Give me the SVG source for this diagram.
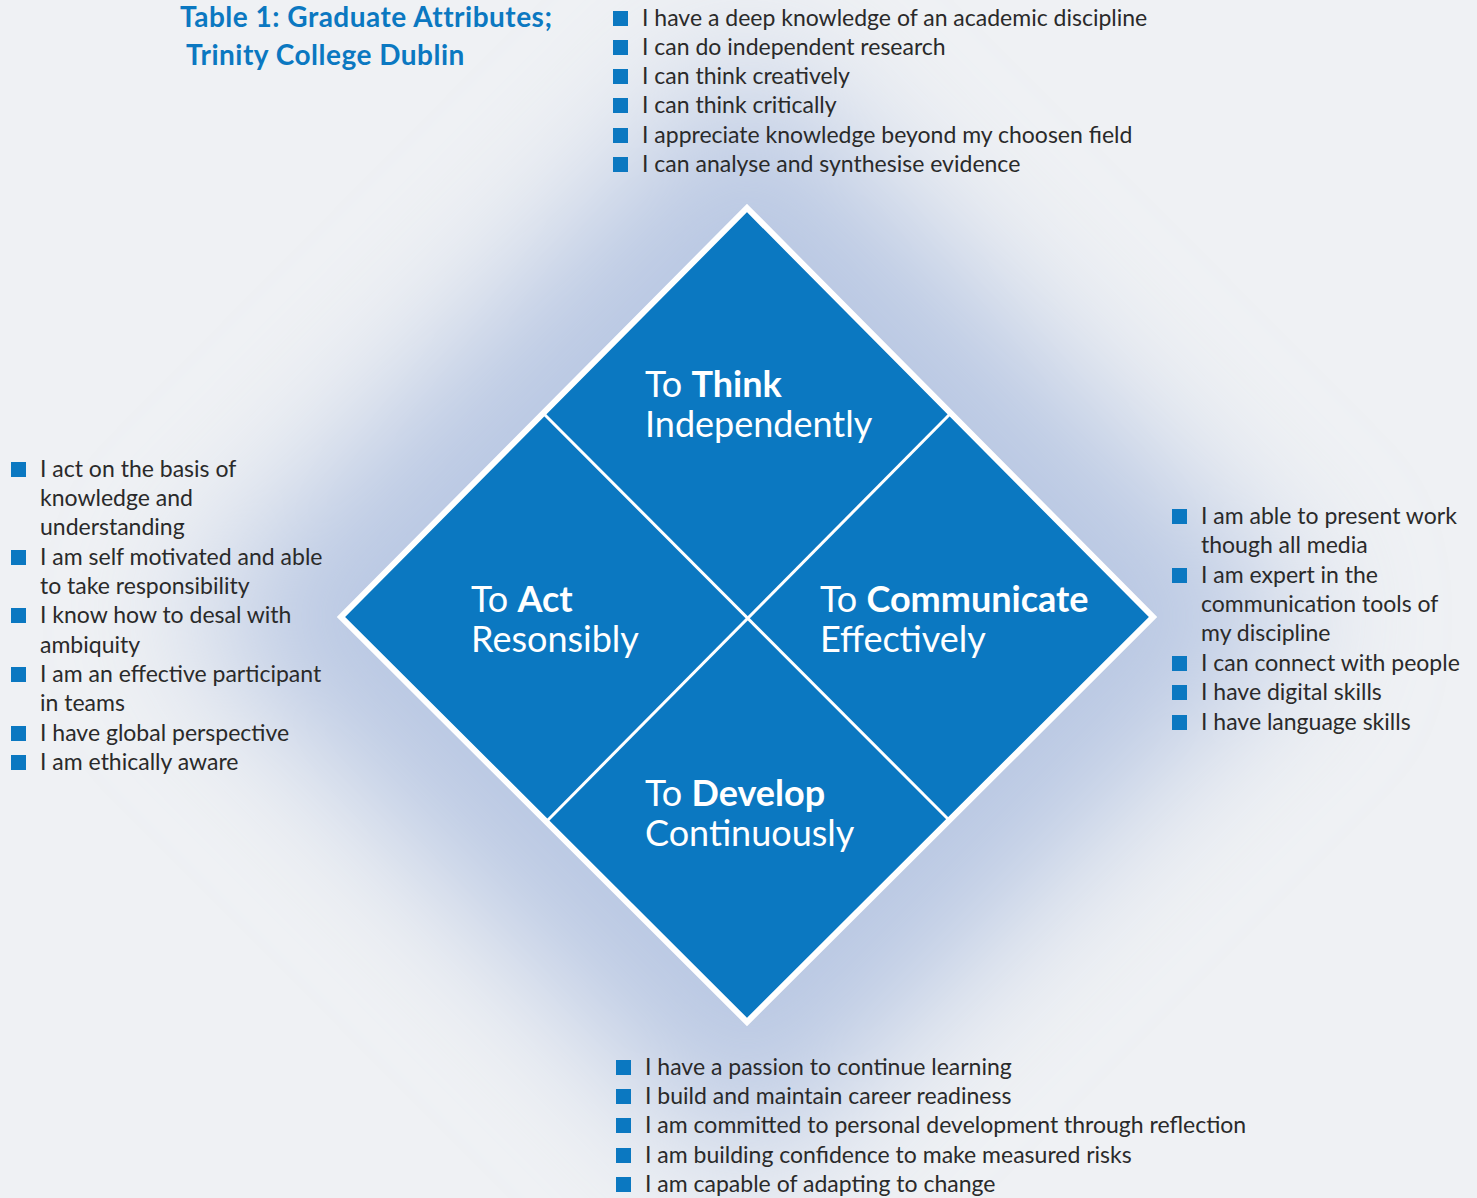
<svg xmlns="http://www.w3.org/2000/svg" width="1477" height="1198" viewBox="0 0 1477 1198">
<defs>
<style>
.t{font-family:Lato,"Noto Sans","Liberation Sans",sans-serif;font-size:23px;fill:#2a2a2a}
.ttl{font-family:Lato,"Noto Sans","Liberation Sans",sans-serif;font-size:28px;font-weight:bold;letter-spacing:0.5px;fill:#0b78c1}
.lbl{font-family:Lato,"Noto Sans","Liberation Sans",sans-serif;font-size:36px;fill:#ffffff}
.b{font-weight:bold}
.bul{fill:#0b78c1}
</style>
<filter id="glow" x="-50%" y="-50%" width="200%" height="200%">
<feGaussianBlur stdDeviation="70"/>
</filter>
</defs>
<rect width="1477" height="1198" fill="#eff1f4"/>
<g id="glow-bg" filter="url(#glow)">
<polygon points="747,50 1310,617 747,1180 185,617" fill="#b9c8e3"/>
</g>
<g id="title">
<text class="ttl" x="180" y="27">Table 1: Graduate Attributes;</text>
<text class="ttl" x="186" y="65">Trinity College Dublin</text>
</g>
<g id="diamond">
<polygon points="747,208 1153,617 747,1022 341,617" fill="#0b78c1" stroke="#ffffff" stroke-width="6" stroke-linejoin="miter"/>
</g>
<g id="connectors">
<line x1="544" y1="414" x2="950" y2="821" stroke="#ffffff" stroke-width="3"/>
<line x1="950" y1="414" x2="546" y2="822" stroke="#ffffff" stroke-width="3"/>
</g>
<g id="node-think">
<text class="lbl" x="645" y="397">To <tspan class="b">Think</tspan></text>
<text class="lbl" x="645" y="437">Independently</text>
</g>
<g id="node-act">
<text class="lbl" x="471" y="612">To <tspan class="b">Act</tspan></text>
<text class="lbl" x="471" y="652">Resonsibly</text>
</g>
<g id="node-communicate">
<text class="lbl" x="820" y="612">To <tspan class="b">Communicate</tspan></text>
<text class="lbl" x="820" y="652">Effectively</text>
</g>
<g id="node-develop">
<text class="lbl" x="645" y="806">To <tspan class="b">Develop</tspan></text>
<text class="lbl" x="645" y="846">Continuously</text>
</g>
<g id="list-top">
<rect class="bul" x="613" y="11" width="15" height="15"/><text class="t" x="642" y="26">I have a deep knowledge of an academic discipline</text>
<rect class="bul" x="613" y="40" width="15" height="15"/><text class="t" x="642" y="55">I can do independent research</text>
<rect class="bul" x="613" y="69" width="15" height="15"/><text class="t" x="642" y="84">I can think creatively</text>
<rect class="bul" x="613" y="98" width="15" height="15"/><text class="t" x="642" y="113">I can think critically</text>
<rect class="bul" x="613" y="128" width="15" height="15"/><text class="t" x="642" y="143">I appreciate knowledge beyond my choosen field</text>
<rect class="bul" x="613" y="157" width="15" height="15"/><text class="t" x="642" y="172">I can analyse and synthesise evidence</text>
</g>
<g id="list-left">
<rect class="bul" x="11" y="462" width="15" height="15"/><text class="t" x="40" y="477">I act on the basis of</text>
<text class="t" x="40" y="506">knowledge and</text>
<text class="t" x="40" y="535">understanding</text>
<rect class="bul" x="11" y="550" width="15" height="15"/><text class="t" x="40" y="565">I am self motivated and able</text>
<text class="t" x="40" y="594">to take responsibility</text>
<rect class="bul" x="11" y="608" width="15" height="15"/><text class="t" x="40" y="623">I know how to desal with</text>
<text class="t" x="40" y="653">ambiquity</text>
<rect class="bul" x="11" y="667" width="15" height="15"/><text class="t" x="40" y="682">I am an effective participant</text>
<text class="t" x="40" y="711">in teams</text>
<rect class="bul" x="11" y="726" width="15" height="15"/><text class="t" x="40" y="741">I have global perspective</text>
<rect class="bul" x="11" y="755" width="15" height="15"/><text class="t" x="40" y="770">I am ethically aware</text>
</g>
<g id="list-right">
<rect class="bul" x="1172" y="509" width="15" height="15"/><text class="t" x="1201" y="524">I am able to present work</text>
<text class="t" x="1201" y="553">though all media</text>
<rect class="bul" x="1172" y="568" width="15" height="15"/><text class="t" x="1201" y="583">I am expert in the</text>
<text class="t" x="1201" y="612">communication tools of</text>
<text class="t" x="1201" y="641">my discipline</text>
<rect class="bul" x="1172" y="656" width="15" height="15"/><text class="t" x="1201" y="671">I can connect with people</text>
<rect class="bul" x="1172" y="685" width="15" height="15"/><text class="t" x="1201" y="700">I have digital skills</text>
<rect class="bul" x="1172" y="715" width="15" height="15"/><text class="t" x="1201" y="730">I have language skills</text>
</g>
<g id="list-bottom">
<rect class="bul" x="616" y="1060" width="15" height="15"/><text class="t" x="645" y="1075">I have a passion to continue learning</text>
<rect class="bul" x="616" y="1089" width="15" height="15"/><text class="t" x="645" y="1104">I build and maintain career readiness</text>
<rect class="bul" x="616" y="1118" width="15" height="15"/><text class="t" x="645" y="1133">I am committed to personal development through reflection</text>
<rect class="bul" x="616" y="1148" width="15" height="15"/><text class="t" x="645" y="1163">I am building confidence to make measured risks</text>
<rect class="bul" x="616" y="1177" width="15" height="15"/><text class="t" x="645" y="1192">I am capable of adapting to change</text>
</g>
</svg>
